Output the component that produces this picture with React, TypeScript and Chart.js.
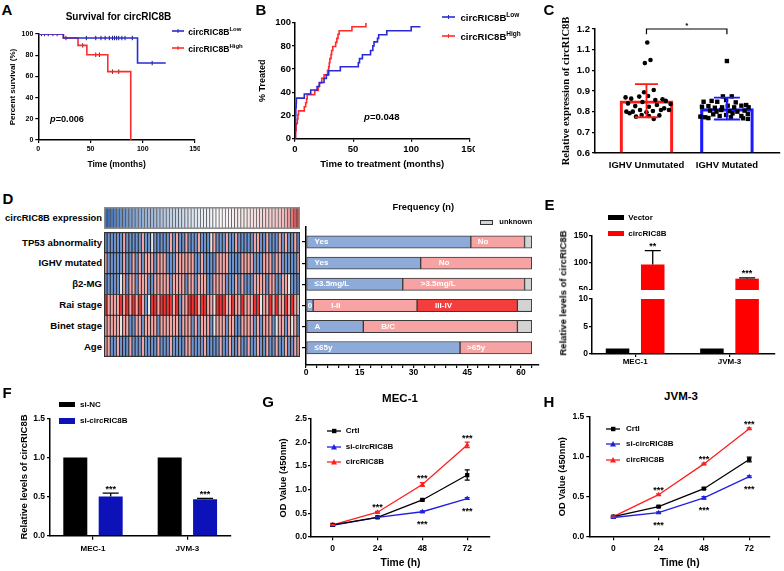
import React, { useEffect, useRef } from 'react';
import { Chart, registerables } from 'chart.js';

Chart.register(...registerables);

const FONT = "'Liberation Sans', Arial, Helvetica, sans-serif";
const SERIF = "'Liberation Serif', 'Times New Roman', serif";
Chart.defaults.font.family = FONT;
(Chart.defaults.font as any).weight = 'bold';
Chart.defaults.color = '#000';

// ---------------- colours ----------------
const KM_BLUE = '#2a2ad4';
const KM_RED = '#ff2a2a';
const C_RED = '#ff1a1a';
const C_BLUE = '#1a1aff';
const E_RED = '#ff0000';
const F_BLUE = '#0d12b8';
const L_BLUE = '#2020e0';
const L_RED = '#ff1f1f';
const HEAT: Record<string, string> = { b: '#6f94cf', r: '#f4a6a6', R: '#ef3535', g: '#e6e6e6' };
const FQ_BLUE = '#8eaad8';
const FQ_PINK = '#f8a3a3';
const FQ_RED = '#f43d3d';
const FQ_GRAY = '#d3d3d3';

// ---------------- A: overall survival ----------------
const survLowTime = [0, 24, 95, 122];
const survLowPct = [100, 96.2, 72.6, 72.6];
const survHighTime = [0, 24, 38, 46.5, 66.5, 88.5];
const survHighPct = [100, 96.2, 89.3, 80.4, 64.5, 0];
const censLowTime = [3, 6, 9.5, 14, 18, 46, 55, 60, 64, 68, 71, 73, 75, 77, 80, 83, 90, 109];
const censLowPct = [100, 100, 100, 100, 100, 96.2, 96.2, 96.2, 96.2, 96.2, 96.2, 96.2, 96.2, 96.2, 96.2, 96.2, 96.2, 72.6];
const censHighTime = [26.5, 42.5, 55, 58.5, 71, 77];
const censHighPct = [96.2, 89.3, 80.4, 80.4, 64.5, 64.5];
const survTicksX = [0, 50, 100, 150];
const pctTicks = [0, 20, 40, 60, 80, 100];

// ---------------- B: time to treatment ----------------
const ttLowTime = [0, 0.3, 0.5, 0.7, 1, 1.2, 8, 13.5, 19, 21, 25, 27, 29, 39, 54.5, 55.5, 58, 65, 67, 68, 71, 72, 79, 100, 108];
const ttLowPct = [0, 13, 20, 27, 31, 35, 38.5, 42, 45, 48.5, 52, 55, 58.6, 62, 65.5, 69, 72.4, 76, 80, 83.5, 86.5, 89.6, 93, 96.5, 96.5];
const ttHighTime = [0, 0.5, 1, 2, 2.5, 3, 8, 9.2, 10, 10.5, 17, 20, 21, 23, 25, 28, 29, 29.5, 30, 31, 31.5, 32.5, 35, 36, 37, 38, 49, 61];
const ttHighPct = [0, 7, 13, 17, 20.7, 24, 27.5, 31, 34.5, 38, 41.5, 45, 48, 52, 55, 59, 62, 65.5, 69, 72.5, 76, 79.5, 83, 86.5, 90, 93, 96.5, 100];

// ---------------- C: expression by IGHV ----------------
const cGroups = ['IGHV Unmutated', 'IGHV Mutated'];
const cMean = [0.853, 0.815];
const cSD = [0.08, 0.053];
const cUnmutVals = [1.135, 1.035, 1.05, 0.905, 0.894, 0.869, 0.863, 0.873, 0.876, 0.856, 0.86, 0.852, 0.837, 0.84, 0.827, 0.847, 0.824, 0.832, 0.816, 0.8, 0.8, 0.808, 0.797, 0.803, 0.808, 0.808, 0.792, 0.784, 0.779, 0.765, 0.776, 0.782];
const cUnmutJit = [0.01, -0.02, 0.05, 0.09, -0.03, -0.26, -0.19, -0.09, 0.02, 0.11, 0.2, 0.24, 0.3, -0.23, -0.14, -0.05, 0.03, 0.13, 0.22, -0.25, -0.17, -0.08, 0, 0.08, 0.18, 0.28, -0.21, -0.06, 0.03, 0.09, -0.13, 0.16];
const cMutVals = [1.045, 0.874, 0.874, 0.848, 0.852, 0.848, 0.856, 0.845, 0.824, 0.827, 0.819, 0.821, 0.829, 0.821, 0.829, 0.832, 0.821, 0.805, 0.8, 0.808, 0.803, 0.8, 0.805, 0.787, 0.779, 0.784, 0.792, 0.779, 0.789, 0.776, 0.773, 0.769, 0.773, 0.768, 0.765];
const cMutJit = [0, -0.05, 0.06, -0.29, -0.19, -0.12, -0.01, 0.11, -0.31, -0.23, -0.15, -0.06, 0.01, 0.09, 0.18, 0.24, 0.27, -0.21, -0.13, -0.07, 0.03, 0.13, 0.22, -0.17, -0.09, -0.01, 0.07, 0.18, 0.26, -0.33, -0.27, -0.23, 0.05, 0.2, 0.26];
const cTicks = [0.6, 0.7, 0.8, 0.9, 1.0, 1.1, 1.2];
const cBracketLevel = 1.2;

// ---------------- D: heatmap + frequencies ----------------
const exprValues = [-2.1, -1.9, -1.75, -1.62, -1.5, -1.4, -1.31, -1.23, -1.15, -1.08, -1.01, -0.95, -0.89, -0.83, -0.77, -0.72, -0.67, -0.62, -0.57, -0.52, -0.48, -0.44, -0.4, -0.36, -0.32, -0.28, -0.25, -0.22, -0.19, -0.16, -0.13, -0.1, -0.08, -0.06, -0.04, -0.02, 0, 0.02, 0.04, 0.06, 0.08, 0.1, 0.12, 0.14, 0.16, 0.18, 0.2, 0.23, 0.26, 0.29, 0.32, 0.35, 0.38, 0.42, 0.46, 0.5, 0.56, 0.64, 0.8, 1.1, 1.5, 1.9, 2.3];
// b = Yes / low / 0 / A / <=65y ; r = No / high / I-II / B-C / >65y ; R = III-IV ; g = unknown
const tp53Codes = 'bbbbbbrbbb' + 'bbrbbgbbbb' + 'brbrbbrbbb' + 'rbbbgrbbbr' + 'bbrbbbbbrr' + 'bbrbbbrbrb' + 'brb';
const ighvCodes = 'rbbbbbrbbr' + 'brbrrrbrrr' + 'bbbrrrrrrb' + 'brbbbbrrrr' + 'bbbbrrrrbb' + 'brrrbrrbbb' + 'bbr';
const b2mgCodes = 'bbbbbgrbrr' + 'brrrbbrrrr' + 'rbrrrrbrrb' + 'rrrbbrrrrb' + 'bbrbrbbbrr' + 'rrbrrbbrrg' + 'bbb';
const raiCodes = 'RrrrrRrRrR' + 'rRrbgRRrRR' + 'RRrRbrrRRR' + 'rRRrrgRRRr' + 'rRrrRrrrRR' + 'grrRrRrrRr' + 'Rrg';
const binetCodes = 'rrrrrgrrbb' + 'rrbrrrrbrr' + 'rrrrbrrrbr' + 'brrrbgrrrb' + 'rrbbrrrrbr' + 'brrrbgrrbr' + 'grb';
const ageCodes = 'rrbbrbbbrb' + 'bbrbbbbrbb' + 'brbbbbrrbb' + 'bbrbbbbrbb' + 'rbbrbbrbbr' + 'bbrbbrbbrb' + 'brr';
const clinRows = ['TP53 abnormality', 'IGHV mutated', 'β2-MG', 'Rai stage', 'Binet stage', 'Age'];
const clinCodes = [tp53Codes, ighvCodes, b2mgCodes, raiCodes, binetCodes, ageCodes];

const freqYes = [46, 32, 27, 2, 16, 43];
const freqNo = [15, 31, 34, 29, 43, 20];
const freqAdv = [0, 0, 0, 28, 0, 0];
const freqUnknown = [2, 0, 2, 4, 4, 0];
const freqYesLabels = ['Yes', 'Yes', '≤3.5mg/L', '0', 'A', '≤65y'];
const freqNoLabels = ['No', 'No', '>3.5mg/L', 'I-II', 'B/C', '>65y'];
const freqAdvLabels = ['', '', '', 'III-IV', '', ''];
const freqTicks = [0, 3, 6, 9, 12, 15, 18, 21, 24, 27, 30, 33, 36, 39, 42, 45, 48, 51, 54, 57, 60, 63];

// ---------------- E: overexpression ----------------
const eCells = ['MEC-1', 'JVM-3'];
const eVector = [1, 1];
const eCirc = [97, 71];
const eCircErr = [26, 1.5];
const eStars = ['**', '***'];

// ---------------- F: knockdown ----------------
const fCells = ['MEC-1', 'JVM-3'];
const fSiNC = [1, 1];
const fSiCirc = [0.5, 0.465];
const fSiCircErr = [0.045, 0.013];
const fStars = ['***', '***'];

// ---------------- G / H: CCK-8 ----------------
const timePoints = [0, 24, 48, 72];
const gCrtl = [0.25, 0.41, 0.78, 1.31];
const gCrtlErr = [0.02, 0.02, 0.02, 0.11];
const gSi = [0.24, 0.41, 0.53, 0.81];
const gSiErr = [0.01, 0.01, 0.02, 0.02];
const gCirc = [0.25, 0.52, 1.11, 1.95];
const gCircErr = [0.01, 0.02, 0.04, 0.06];
const gStarsUp = ['', '***', '***', '***'];
const gStarsDown = ['', '', '***', '***'];
const hCrtl = [0.25, 0.375, 0.6, 0.965];
const hCrtlErr = [0.01, 0.01, 0.01, 0.03];
const hSi = [0.24, 0.3, 0.485, 0.75];
const hSiErr = [0.01, 0.01, 0.015, 0.01];
const hCirc = [0.25, 0.525, 0.91, 1.35];
const hCircErr = [0.01, 0.01, 0.01, 0.01];
const hStarsUp = ['', '***', '***', '***'];
const hStarsDown = ['', '***', '***', '***'];

// ---------------- helpers ----------------
const fitW = (w: number) => (s: any) => { s.width = w; s.paddingTop = 0; s.paddingBottom = 0; s.paddingLeft = 0; s.paddingRight = 0; };
const fitH = (h: number) => (s: any) => { s.height = h; s.paddingTop = 0; s.paddingBottom = 0; s.paddingLeft = 0; s.paddingRight = 0; };
const fmt1 = (v: number) => v.toFixed(1);

function linAxis(o: any) {
  return {
    type: 'linear',
    display: o.display === undefined ? true : o.display,
    min: o.min, max: o.max, reverse: !!o.reverse, offset: false,
    afterBuildTicks: (s: any) => { s.ticks = o.ticks.map((v: number) => ({ value: v })); },
    afterFit: o.fit,
    grid: { display: true, drawOnChartArea: false, drawTicks: o.tickLen > 0, tickLength: o.tickLen, color: '#000', lineWidth: 1.2, offset: false },
    border: { display: true, color: '#000', width: o.axisW || 1.5 },
    ticks: {
      autoSkip: false, maxRotation: 0, minRotation: 0, padding: o.pad, color: '#000',
      font: { size: o.size, weight: 'bold', family: FONT, lineHeight: o.lh || 1.2 },
      callback: (v: any) => (o.fmt ? o.fmt(Number(v)) : String(v)),
    },
    title: o.title
      ? { display: true, text: o.title.text, color: '#000', font: { size: o.title.size, weight: 'bold', family: o.title.family || FONT }, padding: o.title.pad }
      : { display: false },
  };
}

function baseOptions(padding: any, scales: any, extra: any = {}) {
  return {
    animation: false, responsive: false, maintainAspectRatio: false, events: [],
    layout: { padding },
    plugins: { legend: { display: false }, tooltip: { enabled: false }, title: { display: false } },
    scales,
    ...extra,
  };
}

function valAt(ds: any, i: number): number {
  const d = ds.data[i];
  return typeof d === 'number' ? d : d.y;
}

// error bars + significance marks, all placed from the scales
const marksPlugin = {
  id: 'marks',
  afterDatasetsDraw(chart: any) {
    const ctx = chart.ctx;
    chart.data.datasets.forEach((ds: any, di: number) => {
      const meta = chart.getDatasetMeta(di);
      const ys = meta.vScale;
      for (let i = 0; i < ds.data.length; i++) {
        const el = meta.data[i];
        if (!el) continue;
        const v = valAt(ds, i);
        const e = ds.errors ? ds.errors[i] || 0 : 0;
        const top = ys.getPixelForValue(v + e);
        const bot = ys.getPixelForValue(v - e);
        if (ds.errors && e > 0) {
          ctx.save();
          ctx.strokeStyle = ds.errColor || ds.borderColor || '#000';
          ctx.lineWidth = ds.errWidth || 1.2;
          const cw = (ds.capWidth || 6) / 2;
          const y0 = ds.errUpOnly ? el.y : bot;
          ctx.beginPath();
          ctx.moveTo(el.x, y0); ctx.lineTo(el.x, top);
          ctx.moveTo(el.x - cw, top); ctx.lineTo(el.x + cw, top);
          if (!ds.errUpOnly) { ctx.moveTo(el.x - cw, bot); ctx.lineTo(el.x + cw, bot); }
          ctx.stroke();
          ctx.restore();
        }
        ctx.save();
        ctx.fillStyle = '#000';
        ctx.font = `bold 9px ${FONT}`;
        ctx.textAlign = 'center';
        ctx.textBaseline = 'alphabetic';
        if (ds.starsUp && ds.starsUp[i]) ctx.fillText(ds.starsUp[i], el.x, top - 6.5 + 5.1);
        if (ds.starsDown && ds.starsDown[i]) ctx.fillText(ds.starsDown[i], el.x, bot + 9 + 5.1);
        ctx.restore();
      }
    });
  },
};

const outlinePlugin = (color: string, w: number) => ({
  id: 'outline',
  afterDraw(chart: any) {
    const { left, top, right, bottom } = chart.chartArea;
    const ctx = chart.ctx;
    ctx.save();
    ctx.strokeStyle = color;
    ctx.lineWidth = w;
    ctx.strokeRect(left + w / 2, top + w / 2, right - left - w, bottom - top - w);
    ctx.restore();
  },
});

const segLabelPlugin = {
  id: 'seglabels',
  afterDatasetsDraw(chart: any) {
    const ctx = chart.ctx;
    chart.data.datasets.forEach((ds: any, di: number) => {
      if (!ds.segLabels) return;
      const meta = chart.getDatasetMeta(di);
      meta.data.forEach((el: any, i: number) => {
        const txt = ds.segLabels[i];
        if (!txt) return;
        const start = Math.min(el.x, el.base);
        const w = Math.abs(el.x - el.base);
        ctx.save();
        ctx.fillStyle = '#fff';
        ctx.font = `bold 8px ${FONT}`;
        ctx.textBaseline = 'middle';
        if (w < 12) {
          ctx.textAlign = 'center';
          ctx.fillText(txt, start + w / 2, el.y);
        } else {
          ctx.textAlign = 'left';
          const off = start < chart.chartArea.left + 2 ? 8 : w > 80 ? 18 : 7;
          ctx.fillText(txt, start + off, el.y);
        }
        ctx.restore();
      });
    });
  },
};

function exprColor(v: number) {
  const W = [250, 250, 252];
  const B = [47, 100, 176];
  const R = [222, 58, 58];
  let t: number;
  let C: number[];
  if (v < 0) { t = Math.pow(Math.min(1, -v / 2.1), 0.8); C = B; } else { t = Math.pow(Math.min(1, v / 2.3), 0.9); C = R; }
  const c = W.map((w, k) => Math.round(w + (C[k] - w) * t));
  return `rgb(${c[0]},${c[1]},${c[2]})`;
}

// ---------------- chart factories ----------------
const pts = (xs: number[], ys: number[]) => xs.map((x, i) => ({ x, y: ys[i] }));

const makeA = () => ({
  type: 'line',
  data: {
    datasets: [
      { data: pts(survLowTime, survLowPct), borderColor: KM_BLUE, borderWidth: 1.6, stepped: true, pointRadius: 0, fill: false },
      { data: pts(survHighTime, survHighPct), borderColor: KM_RED, borderWidth: 1.6, stepped: true, pointRadius: 0, fill: false },
      { type: 'scatter', data: pts(censLowTime, censLowPct), pointStyle: 'line', pointRotation: 90, pointRadius: 2.2, pointBorderWidth: 1, pointBorderColor: '#1a1a60' },
      { type: 'scatter', data: pts(censHighTime, censHighPct), pointStyle: 'line', pointRotation: 90, pointRadius: 2.2, pointBorderWidth: 1, pointBorderColor: '#601a1a' },
    ],
  },
  options: baseOptions({ left: 0, top: 14, right: 3, bottom: 0 }, {
    x: linAxis({ min: 0, max: 150, ticks: survTicksX, fit: fitH(30), size: 7, tickLen: 3, pad: 1.5, title: { text: 'Time (months)', size: 8.5, pad: { top: 0, bottom: 0.6 } } }),
    y: linAxis({ min: 0, max: 100, ticks: pctTicks, fit: fitW(38.3), size: 7, tickLen: 3, pad: 2, title: { text: 'Percent survival (%)', size: 8, pad: { top: 7.7, bottom: 0 } } }),
  }),
});

const makeB = () => ({
  type: 'line',
  data: {
    datasets: [
      { data: pts(ttLowTime, ttLowPct), borderColor: KM_BLUE, borderWidth: 1.6, stepped: true, pointRadius: 0, fill: false },
      { data: pts(ttHighTime, ttHighPct), borderColor: KM_RED, borderWidth: 1.6, stepped: true, pointRadius: 0, fill: false },
    ],
  },
  options: baseOptions({ left: 0, top: 17.7, right: 5.7, bottom: 0 }, {
    x: linAxis({ min: 0, max: 150, ticks: survTicksX, fit: fitH(36.3), size: 9.5, tickLen: 3, pad: 2.3, title: { text: 'Time to treatment (months)', size: 9.6, pad: { top: 0, bottom: 4.7 } } }),
    y: linAxis({ min: 0, max: 100, ticks: pctTicks, fit: fitW(40), size: 9.5, tickLen: 3, pad: 1, title: { text: '% Treated', size: 9, pad: { top: 2.3, bottom: 0 } } }),
  }),
});

const makeC = () => ({
  type: 'bar',
  data: {
    datasets: [
      { type: 'scatter', order: 1, data: cUnmutVals.map((v, i) => ({ x: 1 + cUnmutJit[i], y: v })), pointStyle: 'circle', pointRadius: 2.3, pointBackgroundColor: '#000', pointBorderWidth: 0 },
      { type: 'scatter', order: 1, data: cMutVals.map((v, i) => ({ x: 2 + cMutJit[i], y: v })), pointStyle: 'rect', pointRadius: 3.1, pointBackgroundColor: '#000', pointBorderWidth: 0 },
      { type: 'bar', order: 2, data: [{ x: 1, y: cMean[0] }], base: 0.6, backgroundColor: 'rgba(255,255,255,0)', borderColor: C_RED, borderWidth: 2.5, barThickness: 53, grouped: false, errors: [cSD[0]], errColor: C_RED, errWidth: 1.8, capWidth: 23 },
      { type: 'bar', order: 2, data: [{ x: 2, y: cMean[1] }], base: 0.6, backgroundColor: 'rgba(255,255,255,0)', borderColor: C_BLUE, borderWidth: 2.5, barThickness: 53, grouped: false, errors: [cSD[1]], errColor: C_BLUE, errWidth: 1.8, capWidth: 26 },
    ],
  },
  options: baseOptions({ left: 0, top: 24, right: 1, bottom: 0 }, {
    x: linAxis({ min: 0.36, max: 2.66, ticks: [1, 2], fmt: (v: number) => cGroups[Math.round(v) - 1], fit: fitH(22), size: 9.5, tickLen: 0, pad: 6.3 }),
    y: linAxis({ min: 0.6, max: 1.2, ticks: cTicks, fmt: fmt1, fit: fitW(50), size: 9.5, tickLen: 3, pad: 2, title: { text: 'Relative expression of circRIC8B', size: 10.5, family: SERIF, pad: { top: 14.7, bottom: 0 } } }),
  }),
  plugins: [
    marksPlugin,
    {
      id: 'bracket',
      afterDraw(chart: any) {
        const ctx = chart.ctx;
        const x1 = chart.scales.x.getPixelForValue(1);
        const x2 = chart.scales.x.getPixelForValue(2);
        const yT = chart.scales.y.getPixelForValue(cBracketLevel);
        const yB = chart.scales.y.getPixelForValue(cBracketLevel - 0.025);
        ctx.save();
        ctx.strokeStyle = '#000';
        ctx.lineWidth = 1.2;
        ctx.beginPath();
        ctx.moveTo(x1, yB); ctx.lineTo(x1, yT); ctx.lineTo(x2, yT); ctx.lineTo(x2, yB);
        ctx.stroke();
        ctx.fillStyle = '#000';
        ctx.font = `bold 8px ${FONT}`;
        ctx.textAlign = 'center';
        ctx.textBaseline = 'alphabetic';
        ctx.fillText('*', (x1 + x2) / 2, yT - 1.5);
        ctx.restore();
      },
    },
  ],
});

const makeExpr = () => ({
  type: 'bar',
  data: {
    labels: exprValues.map((_, i) => String(i + 1)),
    datasets: [{ data: exprValues.map(() => 1), backgroundColor: exprValues.map(exprColor), borderColor: '#4a4a4a', borderWidth: 0.7, borderSkipped: false, categoryPercentage: 1, barPercentage: 1 }],
  },
  options: baseOptions({ left: 0, top: 0, right: 0, bottom: 0 }, { x: { display: false }, y: { display: false, min: 0, max: 1 } }),
  plugins: [outlinePlugin('#8c8c8c', 1.5)],
});

const makeClin = () => ({
  type: 'bar',
  data: {
    labels: tp53Codes.split('').map((_, i) => String(i + 1)),
    datasets: clinCodes.slice().reverse().map((codes) => ({
      data: codes.split('').map(() => 1),
      backgroundColor: codes.split('').map((c) => HEAT[c]),
      borderColor: '#1a1a1a', borderWidth: 0.8, borderSkipped: false, categoryPercentage: 1, barPercentage: 1,
    })),
  },
  options: baseOptions({ left: 0, top: 0, right: 0, bottom: 0 }, { x: { display: false, stacked: true }, y: { display: false, stacked: true, min: 0, max: 6 } }),
  plugins: [outlinePlugin('#333', 1.2)],
});

const makeFreq = () => {
  const kinds = [
    { vals: freqYes, labels: freqYesLabels, color: FQ_BLUE },
    { vals: freqNo, labels: freqNoLabels, color: FQ_PINK },
    { vals: freqAdv, labels: freqAdvLabels, color: FQ_RED },
    { vals: freqUnknown, labels: [] as string[], color: FQ_GRAY },
  ];
  const cum = clinRows.map(() => 0);
  const datasets = kinds.map((k) => {
    const data: any[] = [];
    const labs: string[] = [];
    k.vals.forEach((v, i) => {
      if (v > 0) {
        data.push({ y: i, x: [cum[i], cum[i] + v] });
        labs.push(k.labels[i] || '');
        cum[i] += v;
      }
    });
    return { data, segLabels: labs, backgroundColor: k.color, borderColor: '#3a3a3a', borderWidth: 1, borderSkipped: false, barThickness: 12.3, grouped: false };
  });
  return {
    type: 'bar',
    data: { datasets },
    options: baseOptions({ left: 0, top: 27, right: 1.1, bottom: 0 }, {
      x: linAxis({ min: 0, max: 65, ticks: freqTicks, fmt: (v: number) => (v % 15 === 0 ? String(v) : ''), fit: fitH(17), size: 8.5, lh: 1, tickLen: 3, pad: 0 }),
      y: linAxis({ min: -0.71, max: 5.82, reverse: true, ticks: [0, 1, 2, 3, 4, 5], fmt: () => '', fit: fitW(16), size: 8, tickLen: 4, pad: 0 }),
    }, { indexAxis: 'y' }),
    plugins: [segLabelPlugin],
  };
};

const eDatasets = (marks: boolean) => [
  { data: eVector.map((v, i) => ({ x: i + 1, y: v })), backgroundColor: '#000', categoryPercentage: 0.746, barPercentage: 0.668, clip: 0 },
  {
    data: eCirc.map((v, i) => ({ x: i + 1, y: v })), backgroundColor: E_RED, categoryPercentage: 0.746, barPercentage: 0.668, clip: 0,
    errors: marks ? eCircErr : undefined, errUpOnly: true, errColor: '#000', errWidth: 1.3, capWidth: 16, starsUp: marks ? eStars : undefined,
  },
];

const makeEUpper = () => ({
  type: 'bar',
  data: { datasets: eDatasets(true) },
  options: baseOptions({ left: 0, top: 46, right: 9, bottom: 0 }, {
    x: linAxis({ display: false, min: 0.543, max: 2.482, ticks: [1, 2], fit: fitH(0), size: 8, tickLen: 0, pad: 0 }),
    y: linAxis({ min: 50, max: 150, ticks: [50, 100, 150], fit: fitW(52), size: 8.5, tickLen: 3, pad: 1 }),
  }),
  plugins: [marksPlugin],
});

const makeELower = () => ({
  type: 'bar',
  data: { datasets: eDatasets(false) },
  options: baseOptions({ left: 0, top: 9, right: 9, bottom: 0 }, {
    x: linAxis({ min: 0.543, max: 2.482, ticks: [1, 2], fmt: (v: number) => eCells[Math.round(v) - 1], fit: fitH(16), size: 8, tickLen: 3, pad: 0 }),
    y: linAxis({ min: 0, max: 10, ticks: [0, 5, 10], fit: fitW(52), size: 8.5, tickLen: 3, pad: 1 }),
  }),
});

const makeF = () => ({
  type: 'bar',
  data: {
    datasets: [
      { data: fSiNC.map((v, i) => ({ x: i + 1, y: v })), backgroundColor: '#000', categoryPercentage: 0.75, barPercentage: 0.678 },
      { data: fSiCirc.map((v, i) => ({ x: i + 1, y: v })), backgroundColor: F_BLUE, categoryPercentage: 0.75, barPercentage: 0.678, errors: fSiCircErr, errUpOnly: true, errColor: '#000', errWidth: 1.3, capWidth: 16, starsUp: fStars },
    ],
  },
  options: baseOptions({ left: 0, top: 38.3, right: 9.3, bottom: 0 }, {
    x: linAxis({ min: 0.5445, max: 2.459, ticks: [1, 2], fmt: (v: number) => fCells[Math.round(v) - 1], fit: fitH(29.3), size: 8, tickLen: 4, pad: 3.8 }),
    y: linAxis({ min: 0, max: 1.5, ticks: [0, 0.5, 1, 1.5], fmt: fmt1, fit: fitW(50), size: 8.5, tickLen: 3, pad: 2, title: { text: 'Relative levels of circRIC8B', size: 9.5, pad: { top: 18.3, bottom: 0 } } }),
  }),
  plugins: [marksPlugin],
});

function makeGrowth(p: any) {
  const line = (vals: number[], errs: number[], color: string, shape: string, extra: any = {}) => ({
    data: pts(timePoints, vals), borderColor: color, backgroundColor: color, borderWidth: 1.3,
    pointStyle: shape, pointRadius: 3, pointBackgroundColor: color, pointBorderColor: color, pointBorderWidth: 0,
    errors: errs, errColor: color, errWidth: 1.2, capWidth: 5, fill: false, ...extra,
  });
  return {
    type: 'line',
    data: {
      datasets: [
        line(p.crtl, p.crtlErr, '#000', 'rect'),
        line(p.si, p.siErr, L_BLUE, 'triangle', { starsDown: p.starsDown }),
        line(p.circ, p.circErr, L_RED, 'triangle', { starsUp: p.starsUp }),
      ],
    },
    options: baseOptions(p.padding, {
      x: linAxis({ min: p.xMin, max: p.xMax, ticks: timePoints, fit: fitH(p.xH), size: 8.5, tickLen: 3.5, pad: p.xPad, title: { text: 'Time (h)', size: 10.3, pad: { top: 0, bottom: p.xTitlePad } } }),
      y: linAxis({ min: 0, max: p.yMax, ticks: p.yTicks, fmt: fmt1, fit: fitW(p.yW), size: 8.5, tickLen: 3, pad: p.yPad, title: { text: 'OD Value (450nm)', size: 9.3, pad: { top: p.yTitlePad, bottom: 0 } } }),
    }),
    plugins: [marksPlugin],
  };
}

const makeG = () => makeGrowth({
  crtl: gCrtl, crtlErr: gCrtlErr, si: gSi, siErr: gSiErr, circ: gCirc, circErr: gCircErr, starsUp: gStarsUp, starsDown: gStarsDown,
  padding: { left: 0, top: 14, right: 10, bottom: 0 }, xMin: -11.6, xMax: 84.2, xH: 34.3, xPad: 3.7, xTitlePad: 2,
  yMax: 2.5, yTicks: [0, 0.5, 1, 1.5, 2, 2.5], yW: 56, yPad: 1, yTitlePad: 23.1,
});

const makeH = () => makeGrowth({
  crtl: hCrtl, crtlErr: hCrtlErr, si: hSi, siErr: hSiErr, circ: hCirc, circErr: hCircErr, starsUp: hStarsUp, starsDown: hStarsDown,
  padding: { left: 0, top: 11.7, right: 14, bottom: 0 }, xMin: -12.7, xMax: 83, xH: 34.3, xPad: 3.5, xTitlePad: 1.5,
  yMax: 1.5, yTicks: [0, 0.5, 1, 1.5], yW: 69.3, yPad: 2, yTitlePad: 36.7,
});

// ---------------- components ----------------
type Rect = { left: number; top: number; width: number; height: number };

function ChartCanvas({ rect, make }: { rect: Rect; make: () => any }) {
  const ref = useRef<HTMLCanvasElement | null>(null);
  useEffect(() => {
    if (!ref.current) return;
    const chart = new Chart(ref.current, make());
    return () => chart.destroy();
  }, []);
  return (
    <canvas
      ref={ref}
      width={rect.width}
      height={rect.height}
      style={{ position: 'absolute', left: rect.left, top: rect.top, width: rect.width, height: rect.height }}
    />
  );
}

function Txt({ x, y, size, anchor = 'left', weight = 'bold', children, family = FONT, rotate = 0, color = '#000' }: any) {
  const tx = anchor === 'center' ? '-50%' : anchor === 'right' ? '-100%' : '0';
  return (
    <div
      style={{
        position: 'absolute', left: x, top: y,
        transform: `translate(${tx}, -50%)` + (rotate ? ` rotate(${rotate}deg)` : ''),
        fontSize: size, fontWeight: weight as any, fontFamily: family, color, lineHeight: 1, whiteSpace: 'nowrap',
      }}
    >
      {children}
    </div>
  );
}

const Sup = ({ children, size }: any) => (
  <span style={{ fontSize: size, position: 'relative', top: -4 }}>{children}</span>
);

function Box({ x, y, w, h, color, border }: any) {
  return <div style={{ position: 'absolute', left: x, top: y, width: w, height: h, background: color, boxSizing: 'border-box', border: border || 'none' }} />;
}

function KmSym({ x, y, w, color }: any) {
  return (
    <svg style={{ position: 'absolute', left: x, top: y - 4 }} width={w} height={8}>
      <line x1={0} y1={4} x2={w} y2={4} stroke={color} strokeWidth={1.6} />
      <line x1={w / 2} y1={2} x2={w / 2} y2={6} stroke={color} strokeWidth={1} />
    </svg>
  );
}

function LineSym({ x, y, color, shape }: any) {
  return (
    <svg style={{ position: 'absolute', left: x, top: y - 4 }} width={14} height={8}>
      <line x1={0} y1={4} x2={14} y2={4} stroke={color} strokeWidth={1.3} />
      {shape === 'rect' ? <rect x={5} y={1.8} width={4.4} height={4.4} fill={color} /> : <polygon points="7,1 10,6.5 4,6.5" fill={color} />}
    </svg>
  );
}

export default function App() {
  const clinTop = 232.3;
  const clinRowH = 124.7 / 6;
  return (
    <div style={{ position: 'fixed', left: 0, top: 0, width: 784, height: 571, background: '#fff', overflow: 'hidden', fontFamily: FONT }}>
      <ChartCanvas rect={{ left: 0, top: 20, width: 200, height: 150 }} make={makeA} />
      <ChartCanvas rect={{ left: 255, top: 5, width: 220, height: 170 }} make={makeB} />
      <ChartCanvas rect={{ left: 545, top: 5, width: 239, height: 170 }} make={makeC} />
      <ChartCanvas rect={{ left: 104, top: 207, width: 196, height: 21.5 }} make={makeExpr} />
      <ChartCanvas rect={{ left: 104, top: 232, width: 196, height: 125 }} make={makeClin} />
      <ChartCanvas rect={{ left: 290, top: 200, width: 250, height: 182 }} make={makeFreq} />
      <ChartCanvas rect={{ left: 540, top: 190, width: 244, height: 100 }} make={makeEUpper} />
      <ChartCanvas rect={{ left: 540, top: 290, width: 244, height: 80 }} make={makeELower} />
      <ChartCanvas rect={{ left: 0, top: 380, width: 240, height: 185 }} make={makeF} />
      <ChartCanvas rect={{ left: 255, top: 405, width: 245, height: 166 }} make={makeG} />
      <ChartCanvas rect={{ left: 520, top: 405, width: 264, height: 166 }} make={makeH} />

      {/* panel letters */}
      <Txt x={7} y={8.5} size={15} anchor="center">A</Txt>
      <Txt x={261} y={8.5} size={15} anchor="center">B</Txt>
      <Txt x={549} y={9} size={15} anchor="center">C</Txt>
      <Txt x={8} y={197.5} size={15} anchor="center">D</Txt>
      <Txt x={549.5} y={204} size={15} anchor="center">E</Txt>
      <Txt x={7} y={391.7} size={15} anchor="center">F</Txt>
      <Txt x={268} y={400.5} size={15} anchor="center">G</Txt>
      <Txt x={549} y={401} size={15} anchor="center">H</Txt>

      {/* A */}
      <Txt x={118.5} y={16.7} size={10} anchor="center">Survival for circRIC8B</Txt>
      <KmSym x={172} y={31} w={12} color={KM_BLUE} />
      <KmSym x={172} y={48.3} w={12} color={KM_RED} />
      <Txt x={188.3} y={32} size={8.6}>circRIC8B<Sup size={6}>Low</Sup></Txt>
      <Txt x={188.3} y={48.5} size={8.6}>circRIC8B<Sup size={6}>High</Sup></Txt>
      <Txt x={50} y={119.5} size={9.2}><span style={{ fontStyle: 'italic' }}>p</span>=0.006</Txt>

      {/* B */}
      <KmSym x={442} y={16.5} w={13} color={KM_BLUE} />
      <KmSym x={442} y={35.5} w={13} color={KM_RED} />
      <Txt x={460.5} y={17.5} size={9.6}>circRIC8B<Sup size={6.5}>Low</Sup></Txt>
      <Txt x={460.5} y={36.5} size={9.6}>circRIC8B<Sup size={6.5}>High</Sup></Txt>
      <Txt x={364} y={116.7} size={9.6}><span style={{ fontStyle: 'italic' }}>p</span>=0.048</Txt>

      {/* D */}
      <Txt x={102} y={217.8} size={9.4} anchor="right">circRIC8B expression</Txt>
      {clinRows.map((r, i) => (
        <Txt key={r} x={102} y={clinTop + (i + 0.5) * clinRowH} size={9.6} anchor="right">{r}</Txt>
      ))}
      <Txt x={423.3} y={208} size={9.3} anchor="center">Frequency (n)</Txt>
      <Box x={480} y={220.3} w={12.7} h={4.5} color={FQ_GRAY} border="1px solid #333" />
      <Txt x={499.3} y={222.3} size={7.5}>unknown</Txt>

      {/* E */}
      <Box x={608.3} y={215} w={16} h={5.2} color="#000" />
      <Box x={608.3} y={231} w={16} h={5.2} color={E_RED} />
      <Txt x={628.3} y={217.5} size={8}>Vector</Txt>
      <Txt x={628.3} y={233.5} size={8}>circRIC8B</Txt>
      <Txt x={563} y={293} size={9.5} anchor="center" rotate={-90}>Relative levels of circRIC8B</Txt>

      {/* F */}
      <Box x={59.3} y={401.7} w={15.7} h={5.6} color="#000" />
      <Box x={59.3} y={418.3} w={15.7} h={5.3} color={F_BLUE} />
      <Txt x={80} y={404.5} size={8}>si-NC</Txt>
      <Txt x={80} y={420.8} size={8}>si-circRIC8B</Txt>

      {/* G */}
      <Txt x={400} y={399} size={11.5} anchor="center">MEC-1</Txt>
      <LineSym x={326.7} y={431} color="#000" shape="rect" />
      <LineSym x={326.7} y={446.7} color={L_BLUE} shape="tri" />
      <LineSym x={326.7} y={461.7} color={L_RED} shape="tri" />
      <Txt x={345.7} y={431} size={8}>Crtl</Txt>
      <Txt x={345.7} y={446.7} size={8}>si-circRIC8B</Txt>
      <Txt x={345.7} y={461.7} size={8}>circRIC8B</Txt>

      {/* H */}
      <Txt x={681} y={397} size={11.5} anchor="center">JVM-3</Txt>
      <LineSym x={606} y={429} color="#000" shape="rect" />
      <LineSym x={606} y={444.3} color={L_BLUE} shape="tri" />
      <LineSym x={606} y={460} color={L_RED} shape="tri" />
      <Txt x={626} y={429} size={8}>Crtl</Txt>
      <Txt x={626} y={444.3} size={8}>si-circRIC8B</Txt>
      <Txt x={626} y={460} size={8}>circRIC8B</Txt>
    </div>
  );
}
